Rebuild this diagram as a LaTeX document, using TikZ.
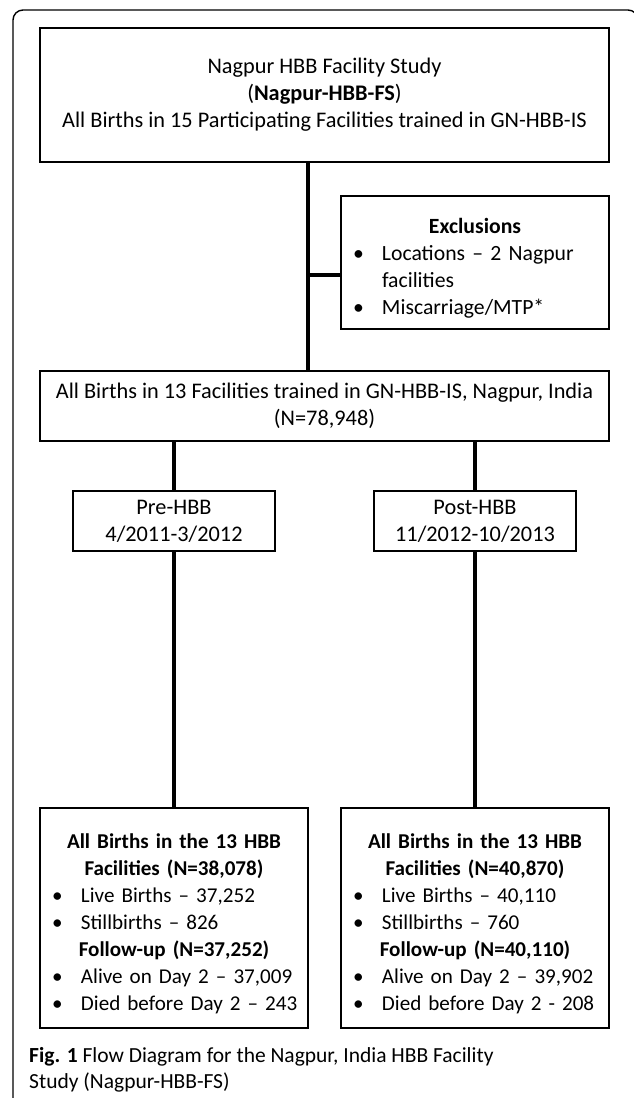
\documentclass[tikz,border=0pt]{standalone}
\usepackage{fontspec}
\setmainfont{Carlito}
\usetikzlibrary{positioning}
\setlength{\parindent}{0pt}
\newcommand{\blt}[1]{\par\hbox{\hspace*{12pt}\makebox[29pt][l]{\textbullet}#1}}
\newcommand{\ctr}[1]{\par\hbox to\hsize{\hss\bfseries #1\hss}}
\newcommand{\cont}[1]{\par\hbox{\hspace*{41pt}#1}}

\begin{document}
\begin{tikzpicture}[x=1pt, y=-1pt, font=\fontsize{22.3}{27}\selectfont,
	box/.style={draw, line width=2.2pt, inner sep=0pt, align=center},
	listbox/.style={draw, line width=2.2pt, inner xsep=0pt, inner ysep=0pt, text width=268pt, minimum height=#1},
	link/.style={line width=3.4pt}]
		\useasboundingbox (0,0) rectangle (634,1098);
		\draw[line width=1.4pt, rounded corners=10pt] (13,1110) -- (13,10) -- (638,10) -- (638,1110);
		\node[box, minimum width=569pt, minimum height=134pt] (top) at (324.5,95) {Nagpur HBB Facility Study\\(\textbf{Nagpur-HBB-FS})\\All Births in 15 Participating Facilities trained in GN-HBB-IS};
		\node[listbox=133pt, font=\fontsize{21.7}{27}\selectfont] (excl) at (475,262.5) {\ctr{Exclusions}\blt{Locations -- 2 Nagpur}\cont{facilities}\blt{Miscarriage/MTP*}};
		\node[box, minimum width=569pt, minimum height=70pt] (mid) at (324.5,406) {All Births in 13 Facilities trained in GN-HBB-IS, Nagpur, India\\(N=78,948)};
		\node[box, minimum width=202pt, minimum height=60pt] (pre) at (174,521) {Pre-HBB\\4/2011-3/2012};
		\node[box, minimum width=202pt, minimum height=60pt] (post) at (475,521) {Post-HBB\\11/2012-10/2013};
		\node[listbox=220pt, font=\fontsize{21.1}{27}\selectfont] (preall) at (174,918) {\ctr{All Births in the 13 HBB}\ctr{Facilities (N=38,078)}\blt{Live Births -- 37,252}\blt{Stillbirths -- 826}\ctr{Follow-up (N=37,252)}\blt{Alive on Day 2 -- 37,009}\blt{Died before Day 2 -- 243}};
		\node[listbox=220pt, font=\fontsize{21.1}{27}\selectfont] (postall) at (475,918) {\ctr{All Births in the 13 HBB}\ctr{Facilities (N=40,870)}\blt{Live Births -- 40,110}\blt{Stillbirths -- 760}\ctr{Follow-up (N=40,110)}\blt{Alive on Day 2 -- 39,902}\blt{Died before Day 2 - 208}};
		\coordinate (fork) at (308,275);
		\draw[link] (top.south -| fork) -- (mid.north -| fork); \draw[link] (fork) -- (excl.west |- fork);
		\draw[link] (mid.south -| pre) -- (pre.north); \draw[link] (mid.south -| post) -- (post.north);
		\draw[link] (pre.south) -- (preall.north); \draw[link] (post.south) -- (postall.north);
		\node[anchor=north west, inner sep=0pt, align=left, font=\fontsize{21.5}{26.5}\selectfont] (cap) at (29,1047) {\textbf{Fig. 1} Flow Diagram for the Nagpur, India HBB Facility\\Study (Nagpur-HBB-FS)};
	\end{tikzpicture}
\end{document}
